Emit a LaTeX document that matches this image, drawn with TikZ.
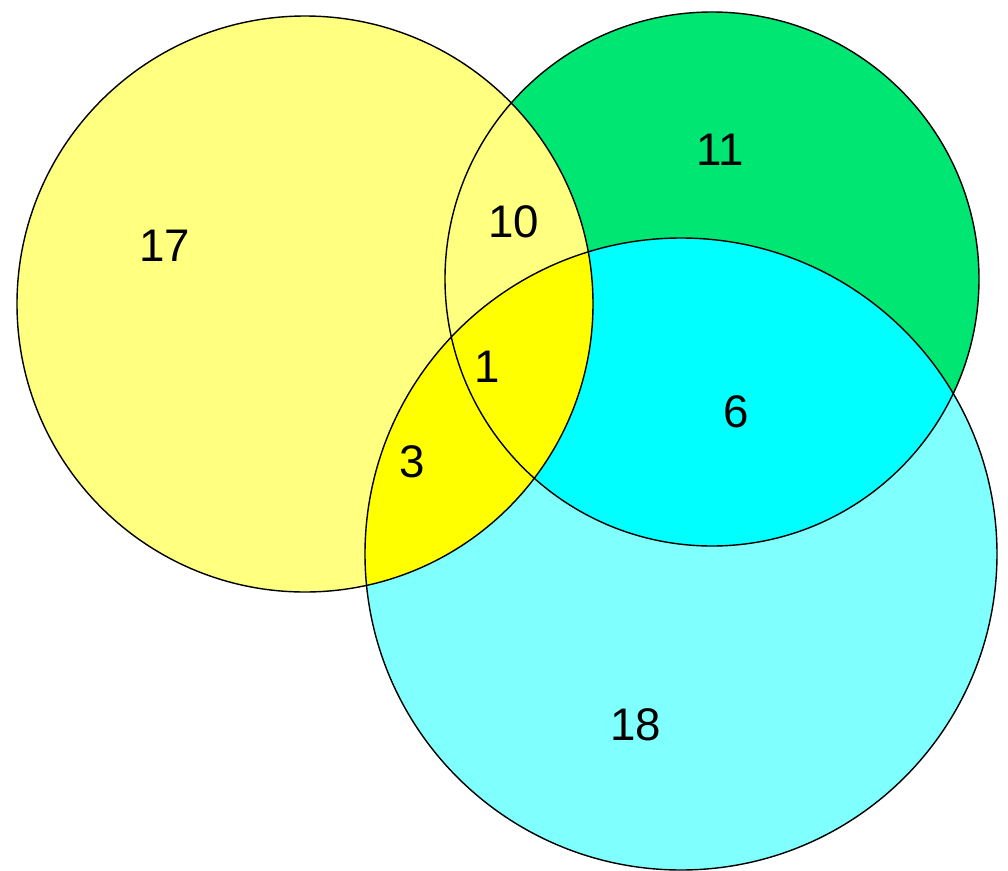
\documentclass[tikz,border=0pt]{standalone}
\usepackage{fontspec}
\setmainfont{Liberation Sans}
\usepackage{xcolor}
\definecolor{softyellow}{RGB}{255,255,128}
\definecolor{fullyellow}{RGB}{255,255,0}
\definecolor{setgreen}{RGB}{0,230,115}
\definecolor{softcyan}{RGB}{128,255,255}
\definecolor{fullcyan}{RGB}{0,255,255}
\usetikzlibrary{positioning}

\begin{document}
\begin{tikzpicture}[
    x=0.2mm, y=-0.2mm,
    ring/.style={draw=black, line width=0.8pt},
    count/.style={font=\fontsize{26}{30}\selectfont, inner sep=0pt}
  ]
  \useasboundingbox (0,0) rectangle (1008,871);

  % Centres of the three sets
  \coordinate (cy) at (305,304);
  \coordinate (cg) at (712,279);
  \coordinate (cc) at (681,554);

  % Fills
  \fill[setgreen] (cg) circle (267);
  \fill[softcyan] (cc) circle (316);
  \begin{scope}
    \clip (cg) circle (267);
    \fill[fullcyan] (cc) circle (316);
  \end{scope}
  \fill[softyellow] (cy) circle (288);
  \begin{scope}
    \clip (cy) circle (288);
    \fill[fullyellow] (cc) circle (316);
  \end{scope}

  % Outlines
  \draw[ring] (cy) circle (288);
  \draw[ring] (cg) circle (267);
  \draw[ring] (cc) circle (316);

  % Counts
  \node[count] (only_y) at (165,246) {17};
  \node[count] (only_g) at (720,150) {11};
  \node[count] (y_g)    at (514,222) {10};
  \node[count] (y_g_c)  at (487,367) {1};
  \node[count] (g_c)    at (736,412) {6};
  \node[count] (y_c)    at (412,462) {3};
  \node[count] (only_c) at (636,725) {18};
\end{tikzpicture}
\end{document}
